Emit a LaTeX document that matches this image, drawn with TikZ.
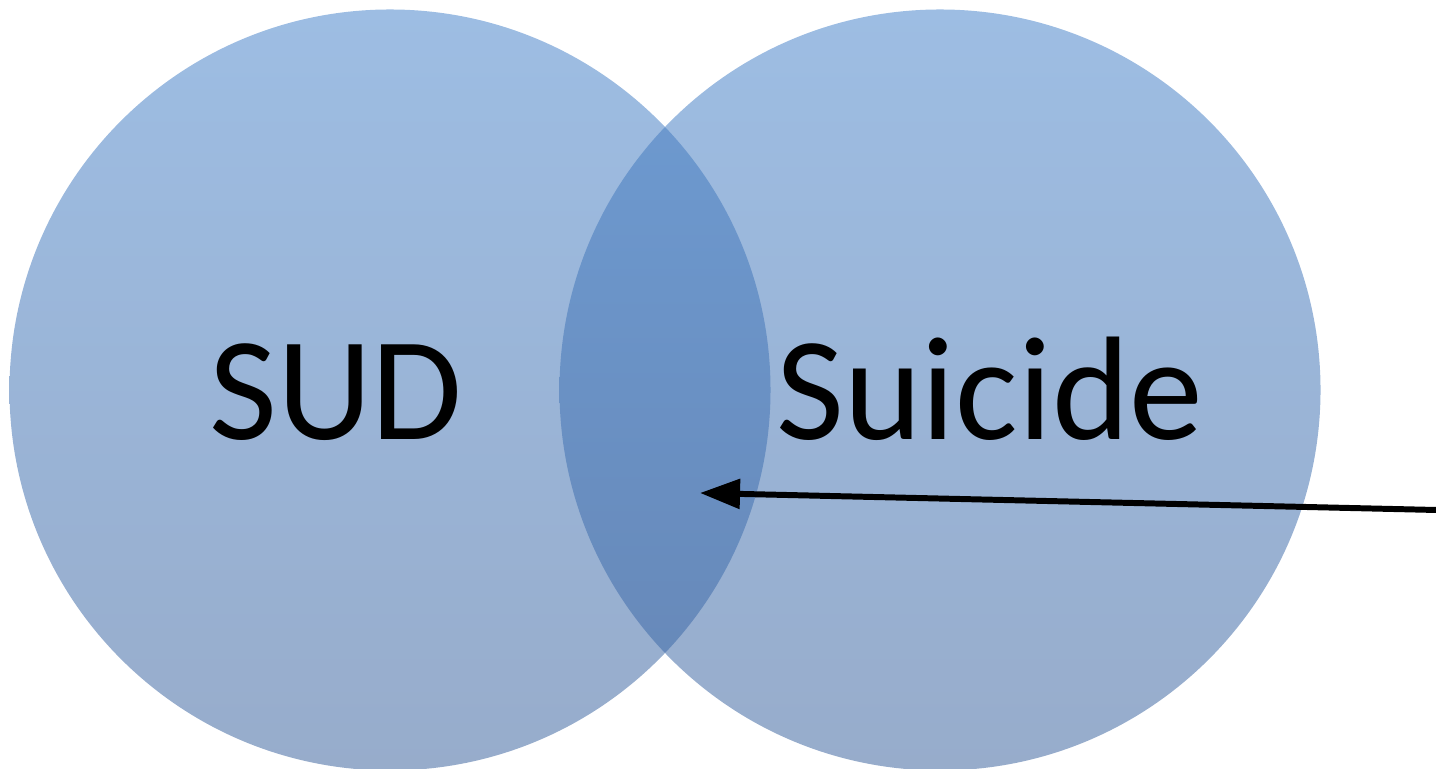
\documentclass[tikz,border=0pt]{standalone}
\usepackage{fontspec}
\setmainfont{Carlito}
\usetikzlibrary{arrows.meta}
\definecolor{venntop}{HTML}{9DBDE3}
\definecolor{vennbot}{HTML}{97ACCB}
\definecolor{overtop}{HTML}{6E9CD3}
\definecolor{overbot}{HTML}{6686B5}

\begin{document}
\begin{tikzpicture}[
  setfill/.style={top color=venntop, bottom color=vennbot, draw=none},
  overfill/.style={top color=overtop, bottom color=overbot, draw=none},
  label/.style={font=\fontsize{42}{50}\selectfont, anchor=base, inner sep=0pt},
  arrow/.style={-{Triangle[length=0.4cm, width=0.29cm]}, line width=1.7pt},
]
  \useasboundingbox (0,0) rectangle (14.36,7.69);
  \clip (0,0) rectangle (14.36,7.69);
  % Sets
  \coordinate (sud) at (3.90,3.79);
  \coordinate (sui) at (9.40,3.79);
  \shade[setfill] (sud) circle (3.805);
  \shade[setfill] (sui) circle (3.805);
  % Overlap
  \begin{scope}
    \clip (sud) circle (3.805);
    \shade[overfill] (sui) circle (3.805);
  \end{scope}
  % Labels
  \node[label] (sudlbl) at (3.36,3.29) {SUD};
  \node[label] (suilbl) at (9.90,3.29) {Suicide};
  % Arrow into overlap
  \coordinate (tail) at (14.36,2.59);
  \coordinate (tip) at (7.00,2.76);
  \draw[arrow] (tail) -- (tip);
\end{tikzpicture}
\end{document}
